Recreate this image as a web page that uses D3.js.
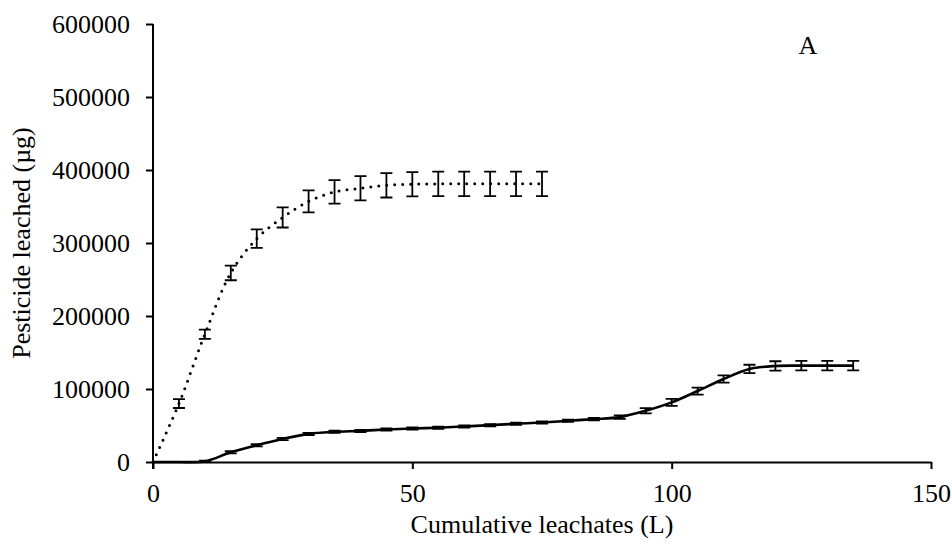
<!DOCTYPE html>
<html>
<head>
<meta charset="utf-8">
<script src="https://cdn.jsdelivr.net/npm/d3@7"></script>
<style>
  html, body { margin: 0; padding: 0; background: #fff; overflow: hidden; }
  svg { display: block; }
  text { font-family: "Liberation Serif", "Times New Roman", serif; fill: #000; }
</style>
</head>
<body>
<svg class="chart"></svg>
<script>
// cumulative leachate volume (L)
const xDotted = [0, 5, 10, 15, 20, 25, 30, 35, 40, 45, 50, 55, 60, 65, 70, 75];
const yDotted = [0, 80000, 175000, 259000, 306000, 335000, 357000, 370000, 375000, 379000, 380500, 381000, 381000, 381000, 381000, 381000];
const eDotted = [0, 6000, 6400, 10000, 12800, 13800, 15000, 16000, 16700, 16700, 16700, 16700, 16700, 16700, 16700, 16700];

const xSolid = [0, 5, 10, 15, 20, 25, 30, 35, 40, 45, 50, 55, 60, 65, 70, 75, 80, 85, 90, 95, 100, 105, 110, 115, 120, 125, 130, 135];
const ySolid = [0, 0, 1000, 13300, 23000, 31600, 38500, 41300, 42600, 44500, 45900, 47000, 48700, 50500, 52300, 54200, 56400, 58700, 61500, 70200, 81700, 97200, 113700, 127500, 131600, 132000, 132000, 132000];
const eSolid = [0, 0, 1000, 1500, 1500, 1500, 1500, 1500, 1500, 1500, 1500, 1500, 1500, 1500, 1500, 1500, 1500, 1800, 2500, 3500, 4800, 4800, 5000, 5700, 6400, 6400, 6400, 6400];

const xTicks = [0, 50, 100, 150];
const yTicks = [0, 100000, 200000, 300000, 400000, 500000, 600000];

const svg = d3.select('.chart')
  .attr('width', 952)
  .attr('height', 546);

const width = +svg.attr('width');
const height = +svg.attr('height');
const margin = {top: 24, right: 21, bottom: 84, left: 153};
const innerWidth = width - margin.left - margin.right;
const innerHeight = height - margin.top - margin.bottom;

const g = svg.append('g')
  .attr('transform', `translate(${margin.left}, ${margin.top})`);

//scale
const xScale = d3.scaleLinear().domain([0, 150]).range([0, innerWidth]);
const yScale = d3.scaleLinear().domain([0, 600000]).range([innerHeight, 0]);

//axes
const xAxis = d3.axisBottom(xScale).tickValues(xTicks).tickSize(7).tickSizeOuter(0).tickPadding(15).tickFormat(d3.format('d'));
const yAxis = d3.axisLeft(yScale).tickValues(yTicks).tickSize(7).tickSizeOuter(0).tickPadding(16).tickFormat(d3.format('d'));

const xAxisG = g.append('g').attr('transform', `translate(0, ${innerHeight})`).call(xAxis);
const yAxisG = g.append('g').call(yAxis);

[xAxisG, yAxisG].forEach(a => {
  a.select('.domain').attr('stroke', '#000').attr('stroke-width', 2);
  a.selectAll('.tick line').attr('stroke', '#000').attr('stroke-width', 2);
  a.selectAll('.tick text').attr('font-size', 26).attr('font-family', '"Liberation Serif", serif').attr('fill', '#000');
});
// y axis drawn a bit below zero like the original
yAxisG.select('.domain').attr('d', `M0,${innerHeight + 7}V0`);

//lines
const line = d3.line()
  .x(d => xScale(d.x))
  .y(d => yScale(d.y))
  .curve(d3.curveCatmullRom.alpha(0.5));

const dotted = xDotted.map((x, i) => ({x, y: yDotted[i], e: eDotted[i]}));
const solid = xSolid.map((x, i) => ({x, y: ySolid[i], e: eSolid[i]}));

g.append('path')
  .datum(solid)
  .attr('d', line)
  .attr('fill', 'none')
  .attr('stroke', '#000')
  .attr('stroke-width', 2.6);

g.append('path')
  .datum(dotted)
  .attr('d', line)
  .attr('fill', 'none')
  .attr('stroke', '#000')
  .attr('stroke-width', 3)
  .attr('stroke-linecap', 'round')
  .attr('stroke-dasharray', '0 8');

//error bars
const cap = 6;
const drawErr = (data) => {
  const eg = g.append('g').attr('stroke', '#000').attr('stroke-width', 1.8).attr('fill', 'none');
  eg.selectAll('path')
    .data(data.filter(d => d.e > 0))
    .enter()
    .append('path')
    .attr('d', d => {
      const x = xScale(d.x), y0 = yScale(d.y - d.e), y1 = yScale(d.y + d.e);
      return `M${x - cap},${y1}H${x + cap}M${x},${y1}V${y0}M${x - cap},${y0}H${x + cap}`;
    });
};
drawErr(dotted);
drawErr(solid);

//labels
svg.append('text')
  .attr('x', margin.left + innerWidth / 2)
  .attr('y', 533)
  .attr('text-anchor', 'middle')
  .attr('font-size', 26)
  .text('Cumulative leachates (L)');

svg.append('text')
  .attr('transform', `translate(30, ${margin.top + innerHeight / 2}) rotate(-90)`)
  .attr('text-anchor', 'middle')
  .attr('font-size', 26)
  .text('Pesticide leached (µg)');

svg.append('text')
  .attr('x', 808)
  .attr('y', 54)
  .attr('text-anchor', 'middle')
  .attr('font-size', 26)
  .text('A');
</script>
</body>
</html>
